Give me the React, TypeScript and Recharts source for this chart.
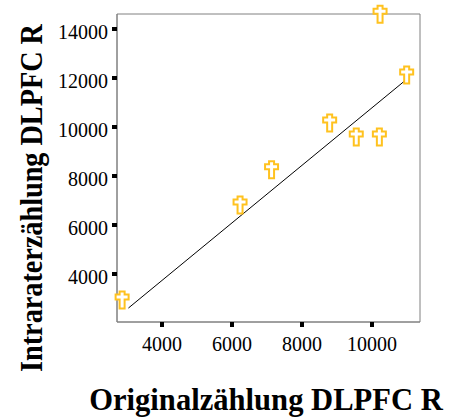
import React from 'react';
import {
  ScatterChart,
  Scatter,
  XAxis,
  YAxis,
  ReferenceArea,
} from 'recharts';

// counts per case: original count vs. repeated count by the same rater
const originalCounts = [2860, 6230, 7130, 8790, 9550, 10210, 10230, 10990];
const intraraterCounts = [2940, 6820, 8250, 10160, 9590, 9590, 14600, 12120];

// ends of the fit line
const fitOriginal = [3040, 11060];
const fitIntrarater = [2610, 12030];

const xTicks = [4000, 6000, 8000, 10000];
const yTicks = [4000, 6000, 8000, 10000, 12000, 14000];
const xDomain = [2714, 11371];
const yDomain = [2041, 14612];

const points = originalCounts.map((x, i) => ({ x, y: intraraterCounts[i] }));
const fitLine = fitOriginal.map((x, i) => ({ x, y: fitIntrarater[i] }));

const FONT = '"Liberation Serif", "Times New Roman", serif';
const GOLD = '#FFC21F';

function Cross(props: any) {
  const { cx, cy } = props;
  if (cx == null || cy == null) return null;
  const d =
    'M -2.5 -8.5 L 2.5 -8.5 L 2.5 -5.5 L 6.5 -5.5 L 6.5 -0.5 L 2.5 -0.5 ' +
    'L 2.5 8.5 L -2.5 8.5 L -2.5 -0.5 L -6.5 -0.5 L -6.5 -5.5 L -2.5 -5.5 Z';
  return (
    <path
      d={d}
      transform={`translate(${cx},${cy})`}
      fill="#fff"
      stroke={GOLD}
      strokeWidth={2}
      strokeLinejoin="miter"
    />
  );
}

function YTick(props: any) {
  const { x, y, payload } = props;
  return (
    <text x={x} y={y} dy={10} textAnchor="end" fontFamily={FONT} fontSize={20} fill="#000">
      {payload.value}
    </text>
  );
}

function XTick(props: any) {
  const { x, y, payload } = props;
  return (
    <text x={x} y={y} dy={16} textAnchor="middle" fontFamily={FONT} fontSize={20} fill="#000">
      {payload.value}
    </text>
  );
}

// bold, slightly condensed axis titles
function Title({ transform, children }: { transform: string; children: React.ReactNode }) {
  return (
    <text
      x={0}
      y={0}
      transform={transform}
      textAnchor="middle"
      fontFamily={FONT}
      fontWeight="bold"
      fontSize={32}
      fill="#000"
    >
      {children}
    </text>
  );
}

export default function App() {
  return (
    <div style={{ position: 'fixed', left: 0, top: 0, width: 453, height: 419, background: '#fff' }}>
      <ScatterChart
        width={453}
        height={419}
        margin={{ top: 14, right: 33, bottom: 0, left: 0 }}
      >
        <XAxis
          type="number"
          dataKey="x"
          domain={xDomain}
          ticks={xTicks}
          height={97}
          axisLine={{ stroke: '#808080' }}
          tickLine={{ stroke: '#000', strokeWidth: 4 }}
          tickSize={5}
          tickMargin={8}
          tick={<XTick />}
          label={{
            content: () => (
              <Title transform="translate(266,410) scale(0.957,1)">Originalzählung DLPFC R</Title>
            ),
          }}
        />
        <YAxis
          type="number"
          dataKey="y"
          domain={yDomain}
          ticks={yTicks}
          width={117}
          axisLine={{ stroke: '#808080' }}
          tickLine={{ stroke: '#000', strokeWidth: 4 }}
          tickSize={5}
          tickMargin={4}
          tick={<YTick />}
          label={{
            content: () => (
              <Title transform="translate(42,198) rotate(-90) scale(0.882,1)">
                Intraraterzählung DLPFC R
              </Title>
            ),
          }}
        />
        <ReferenceArea
          x1={xDomain[0]}
          x2={xDomain[1]}
          y1={yDomain[0]}
          y2={yDomain[1]}
          fill="none"
          stroke="#808080"
        />
        <Scatter
          data={fitLine}
          line={{ stroke: '#000', strokeWidth: 1 }}
          shape={() => null}
          isAnimationActive={false}
        />
        <Scatter data={points} shape={<Cross />} isAnimationActive={false} />
      </ScatterChart>
    </div>
  );
}
